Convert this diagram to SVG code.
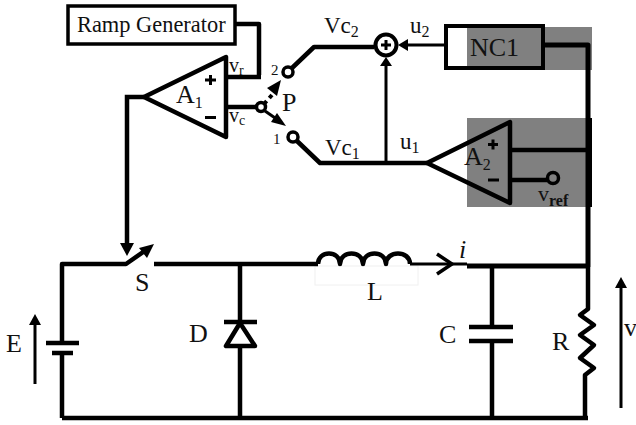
<svg xmlns="http://www.w3.org/2000/svg" width="636" height="425" viewBox="0 0 636 425">
<style>
text{font-family:"Liberation Serif","Times New Roman",serif;fill:#111}
.w{fill:none;stroke:#000;stroke-width:4.500;stroke-linejoin:round}
.t{fill:none;stroke:#000;stroke-width:3}
.o{fill:#fff;stroke:#000;stroke-width:3.500}
.k{fill:#000}
.l{font-size:26px}
.s{font-size:23px}
.b{font-size:15px}
.r{font-size:20px}
</style>
<rect width="636" height="425" fill="#fff"/>
<rect id="shade-nc1" x="467" y="27" width="125" height="43" fill="#808080"/>
<rect id="shade-a2" x="467" y="118" width="125" height="89" fill="#808080"/>
<rect x="315" y="266" width="103" height="19" fill="#fff" stroke="#f0f0f0"/>
<g id="connectors">
<path class="w" d="M236 24H259V75"/>
<path class="w" d="M226 77H261"/>
<path class="w" d="M226 107H256"/>
<path class="w" d="M292 68L314 47H374"/>
<path class="w" d="M297 141L320 163H427"/>
<path class="t" d="M386 163V66"/>
<path class="k" d="M386 57L392 66H380Z"/>
<path class="t" d="M444 45H406"/>
<path class="k" d="M398 45L408 39V51Z"/>
<path class="w" style="stroke-width:5" d="M543 45H588V267"/>
<path class="k" d="M586 118H592V207H586Z"/>
<path class="w" d="M510 150H588"/>
<path class="w" d="M510 180H547"/>
<path class="w" style="stroke-linejoin:miter" d="M144 97H127V244"/>
<path class="k" d="M120 243H134L127 256Z"/>
<path class="t" style="stroke-width:4" stroke-dasharray="4 4" d="M264 104L272 95"/>
<path class="k" d="M281 80L277 96L267 88Z"/>
<path class="t" d="M265 111L278 120"/>
<path class="k" d="M286 126L271 122L277 113Z"/>
<path class="w" d="M62 418V353M62 343V264H126L146 250"/>
<path class="k" d="M154 244L147 258L139 248Z"/>
<path class="w" d="M154 264H318"/>
<path class="t" d="M410 264H467"/>
<path class="t" style="stroke-width:3.500" d="M437 254L452 264L437 274"/>
<path class="w" style="stroke-width:5" d="M467 266H590"/>
<path class="w" d="M318 264C318 250 340 250 340 264C340 250 363 250 363 264C363 250 386 250 386 264C386 250 410 250 410 264"/>
<path class="w" d="M240 264V322M240 346V418"/>
<path class="w" d="M224 322H257"/>
<path class="w" d="M240 323L226 346H255Z"/>
<path class="w" d="M62 418H588"/>
<path class="w" d="M492 266V327M492 341V417"/>
<path class="w" d="M469 327H513M469 341H513"/>
<path class="w" d="M588 267V309L580 315L594 325L580 335L594 345L580 358L594 368L585 375V418"/>
<path class="w" d="M46 343H79M52 353H73"/>
<path class="t" d="M35 384V322"/>
<path class="k" d="M35 314L41 325H29Z"/>
<path class="t" d="M621 408V285"/>
<path class="k" d="M621 277L627 288H615Z"/>
</g>
<g id="ramp"><rect x="68" y="6" width="167" height="38" fill="#fff" stroke="#000" stroke-width="3.500"/><text x="77" y="32" style="font-size:22.400px">Ramp Generator</text></g>
<g id="a1"><path d="M144 97L226 57V137Z" fill="#fff" stroke="#000" stroke-width="4.500" stroke-linejoin="round"/><text class="l" x="176" y="103">A<tspan font-size="16" dy="5">1</tspan></text>
<path class="k" d="M205 78.500H216V81.500H205ZM209 75H212V85H209ZM205 116H216V119H205Z"/></g>
<g id="labels-a1"><text class="r" x="229" y="72">v<tspan font-size="14" dy="3">r</tspan></text><text class="r" x="229" y="122">v<tspan font-size="14" dy="3">c</tspan></text></g>
<g id="switch-p"><circle class="o" cx="261" cy="107" r="4.500"/><text class="l" x="282" y="111">P</text></g>
<g id="terminal-2"><circle class="o" cx="288" cy="72" r="5"/><text class="b" x="271" y="75">2</text></g>
<g id="terminal-1"><circle class="o" cx="293" cy="137" r="5"/><text class="b" x="273" y="144">1</text></g>
<g id="sum"><circle cx="386" cy="45" r="10.500" fill="#fff" stroke="#000" stroke-width="4"/><path class="k" d="M381 43.500H391V46.500H381ZM384.500 40H387.500V50H384.500Z"/></g>
<g id="nc1"><rect x="446" y="26" width="97" height="42" fill="none" stroke="#000" stroke-width="4"/><text x="470" y="56" style="font-size:26px">NC1</text></g>
<g id="a2"><path d="M427 163L510 122V203Z" fill="none" stroke="#000" stroke-width="4.500" stroke-linejoin="round"/><text class="l" x="464" y="165">A<tspan font-size="16" dy="5">2</tspan></text>
<path class="k" d="M488 143H498V146H488ZM491.500 139.500H494.500V149.500H491.500ZM488 178.500H499V181.500H488Z"/></g>
<g id="vref"><circle cx="553" cy="178" r="5.500" fill="none" stroke="#000" stroke-width="3.500"/><text x="538" y="201" style="font-size:22px">v<tspan font-size="16" font-weight="bold" dy="5">ref</tspan></text></g>
<g id="labels">
<text class="s" x="324" y="33">Vc<tspan font-size="16" dy="4">2</tspan></text>
<text class="s" x="325" y="155">Vc<tspan font-size="16" dy="4">1</tspan></text>
<text class="s" x="410" y="33">u<tspan font-size="16" dy="4">2</tspan></text>
<text class="s" x="400" y="149">u<tspan font-size="16" dy="4">1</tspan></text>
<text class="l" x="135" y="291">S</text>
<text class="l" x="189" y="342">D</text>
<text class="l" x="6" y="352">E</text>
<text class="l" x="367" y="300">L</text>
<text class="l" x="439" y="343">C</text>
<text class="l" x="552" y="350">R</text>
<text class="l" x="459" y="258" font-style="italic">i</text>
<text class="l" x="624" y="336">v</text>
</g>
</svg>
